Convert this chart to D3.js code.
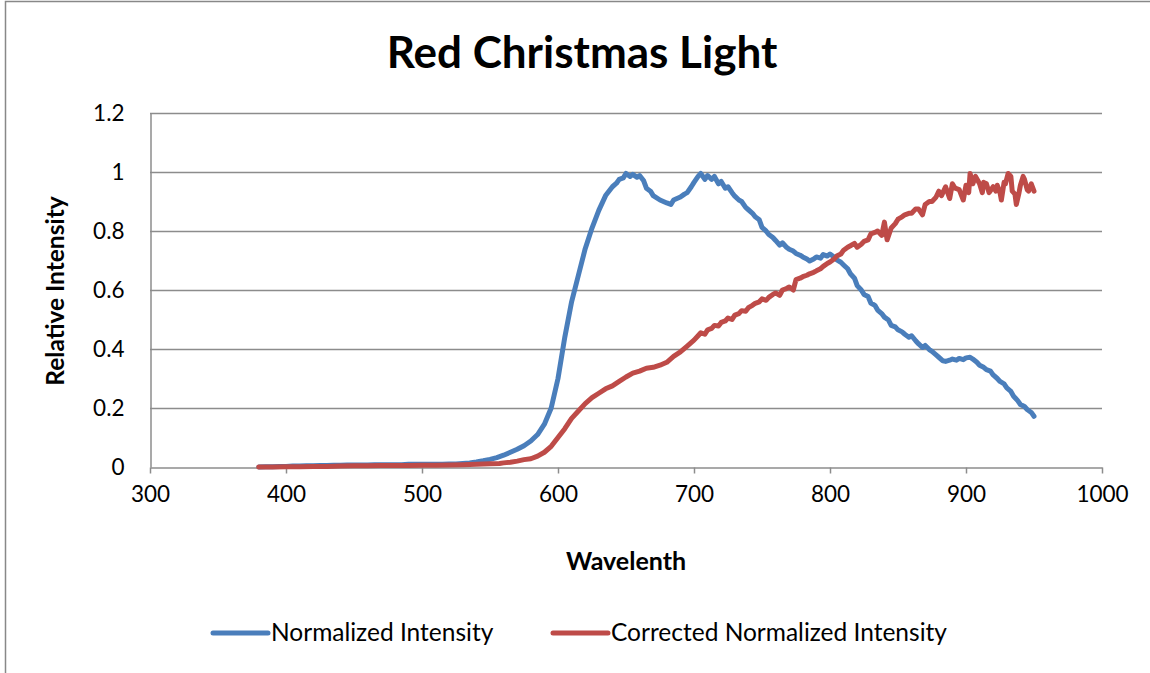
<!DOCTYPE html>
<html><head><meta charset="utf-8">
<script src="https://cdn.jsdelivr.net/npm/d3@7"></script>
<style>html,body{margin:0;padding:0;background:#fff;} svg{display:block;}</style>
</head><body>
<script>
const title = "Red Christmas Light";
const xLabel = "Wavelenth";
const yLabel = "Relative Intensity";
const seriesNames = ["Normalized Intensity", "Corrected Normalized Intensity"];
const xTicks = [300,400,500,600,700,800,900,1000];
const yTicks = [0,0.2,0.4,0.6,0.8,1,1.2];
const yTickLabels = ["0","0.2","0.4","0.6","0.8","1","1.2"];

const blueWl = [380,385,390,395,400,405,410,415,420,425,430,435,440,445,450,455,460,465,470,475,480,485,490,495,500,505,510,515,520,525,530,535,540,545,550,555,560,565,570,575,580,585,590,595,600,605,610,615,620,625,630,635,640,643,645,648,650,653,655,658,660,663,665,668,670,675,680,683,685,690,693,695,698,700,703,705,708,710,713,715,718,720,723,725,728,730,733,735,738,740,743,745,748,750,753,755,758,760,763,765,768,770,773,775,778,780,783,785,788,790,793,795,798,800,803,805,808,810,813,815,818,820,823,825,828,830,833,835,838,840,843,845,848,850,853,855,858,860,863,865,868,870,873,875,878,880,883,885,888,890,893,895,898,900,903,905,908,910,913,915,918,920,923,925,928,930,933,935,938,940,943,945,948,950];
const blueVal = [0.000,0.001,0.001,0.002,0.002,0.003,0.003,0.004,0.004,0.005,0.005,0.006,0.006,0.007,0.007,0.007,0.007,0.008,0.008,0.008,0.008,0.008,0.009,0.009,0.009,0.009,0.009,0.009,0.010,0.010,0.012,0.014,0.017,0.021,0.026,0.032,0.040,0.050,0.060,0.072,0.088,0.110,0.145,0.200,0.300,0.440,0.560,0.650,0.740,0.810,0.870,0.920,0.950,0.962,0.975,0.980,0.995,0.985,0.992,0.982,0.988,0.970,0.945,0.935,0.920,0.905,0.895,0.890,0.905,0.915,0.925,0.930,0.950,0.965,0.985,0.995,0.975,0.988,0.975,0.985,0.960,0.968,0.945,0.950,0.930,0.918,0.905,0.900,0.880,0.872,0.860,0.848,0.838,0.812,0.800,0.788,0.778,0.768,0.752,0.760,0.745,0.738,0.732,0.724,0.718,0.712,0.705,0.698,0.705,0.712,0.708,0.720,0.715,0.722,0.712,0.702,0.694,0.685,0.672,0.655,0.640,0.615,0.600,0.585,0.578,0.556,0.548,0.532,0.520,0.508,0.498,0.480,0.475,0.465,0.458,0.450,0.440,0.445,0.428,0.418,0.405,0.412,0.398,0.392,0.380,0.372,0.360,0.358,0.362,0.366,0.362,0.368,0.364,0.370,0.372,0.366,0.355,0.345,0.338,0.330,0.325,0.312,0.300,0.290,0.282,0.268,0.256,0.240,0.225,0.212,0.205,0.195,0.185,0.172,0.158];

const redWl = [380,390,400,410,420,430,440,450,460,470,480,490,500,510,520,530,540,550,557,560,565,570,575,580,585,590,595,600,605,610,615,620,625,630,635,640,645,650,655,660,665,670,675,680,685,690,695,700,703,705,708,710,713,715,718,720,723,725,728,730,733,735,738,740,743,745,748,750,753,755,758,760,763,765,768,770,773,775,778,780,783,785,788,790,793,795,798,800,803,805,808,810,813,815,818,820,823,825,828,830,833,835,838,840,842,845,848,850,853,855,858,860,863,865,868,870,873,875,878,880,882,885,888,890,892,895,898,900,902,903,905,907,910,912,913,915,917,920,922,923,925,926,928,929,931,933,934,936,937,939,940,942,943,945,946,948,950];
const redVal = [0.000,0.000,0.001,0.001,0.002,0.002,0.003,0.004,0.004,0.005,0.005,0.005,0.006,0.006,0.007,0.008,0.009,0.011,0.012,0.014,0.016,0.020,0.025,0.028,0.037,0.050,0.070,0.100,0.130,0.165,0.190,0.215,0.235,0.250,0.265,0.275,0.290,0.305,0.318,0.325,0.335,0.338,0.345,0.355,0.375,0.390,0.410,0.430,0.445,0.455,0.450,0.465,0.470,0.480,0.478,0.490,0.495,0.505,0.500,0.515,0.520,0.530,0.528,0.540,0.548,0.555,0.560,0.570,0.565,0.575,0.585,0.590,0.582,0.600,0.605,0.610,0.600,0.635,0.640,0.645,0.650,0.655,0.660,0.665,0.672,0.680,0.690,0.695,0.705,0.715,0.722,0.735,0.745,0.750,0.758,0.745,0.755,0.765,0.770,0.790,0.795,0.800,0.785,0.830,0.770,0.810,0.825,0.840,0.848,0.855,0.860,0.860,0.875,0.875,0.855,0.890,0.900,0.900,0.915,0.935,0.920,0.950,0.910,0.960,0.945,0.940,0.905,0.955,0.930,0.995,0.960,0.985,0.960,0.930,0.965,0.960,0.930,0.950,0.935,0.955,0.930,0.905,0.965,0.960,0.995,0.985,0.935,0.925,0.890,0.930,0.955,0.985,0.975,0.940,0.935,0.960,0.935];

const colors = ["#4A7EBB", "#BE4B48"];
const W = 1150, H = 673;
const m = {left:150, right:1102, top:113, bottom:467};

const svg = d3.select("body").append("svg").attr("width", W).attr("height", H);
svg.append("rect").attr("x",5.5).attr("y",1.5).attr("width",W+10).attr("height",H+10)
  .attr("fill","#fff").attr("stroke","#888").attr("stroke-width",1.5);

const x = d3.scaleLinear().domain([300,1000]).range([m.left, m.right]);
const y = d3.scaleLinear().domain([0,1.2]).range([m.bottom, m.top]);

const font = "Lato, 'Open Sans', sans-serif";

// gridlines
svg.append("g").selectAll("line").data(yTicks.filter(d=>d>0)).join("line")
  .attr("x1", m.left).attr("x2", m.right)
  .attr("y1", d=>Math.round(y(d))+0.5).attr("y2", d=>Math.round(y(d))+0.5)
  .attr("stroke","#8c8c8c").attr("stroke-width",1.5);

// y axis
const yAxis = d3.axisLeft(y).tickValues(yTicks).tickFormat((d,i)=>yTickLabels[i]).tickSize(0).tickPadding(26);
const gy = svg.append("g").attr("transform",`translate(${m.left+0.5},0)`).call(yAxis);
gy.select(".domain").attr("stroke","#8c8c8c").attr("stroke-width",1.5);
gy.selectAll("text").attr("font-family",font).attr("font-size",22.5).attr("fill","#000");

// x axis
const xAxis = d3.axisBottom(x).tickValues(xTicks).tickFormat(d3.format("d")).tickSize(6).tickSizeOuter(0).tickPadding(28);
const gx = svg.append("g").attr("transform",`translate(0,${m.bottom+0.5})`).call(xAxis);
gx.select(".domain").attr("stroke","#8c8c8c").attr("stroke-width",1.5);
gx.selectAll(".tick line").attr("stroke","#8c8c8c").attr("stroke-width",1.5);
gx.selectAll("text").attr("font-family",font).attr("font-size",22.5).attr("fill","#000").attr("dy",0);

// lines
const line = d3.line().x(d=>x(d[0])).y(d=>y(d[1]));
const series = [d3.zip(blueWl, blueVal), d3.zip(redWl, redVal)];
series.forEach((s,i)=>{
  svg.append("path").datum(s).attr("d", line).attr("fill","none")
    .attr("stroke", colors[i]).attr("stroke-width",5)
    .attr("stroke-linejoin","round").attr("stroke-linecap","round");
});

// title
svg.append("text").attr("x",582).attr("y",68).attr("text-anchor","middle")
  .attr("font-family",font).attr("font-weight","bold").attr("font-size",44).text(title);
// axis titles
svg.append("text").attr("x",626).attr("y",570).attr("text-anchor","middle")
  .attr("font-family",font).attr("font-weight","bold").attr("font-size",25).text(xLabel);
svg.append("text").attr("transform","translate(64,291) rotate(-90)").attr("text-anchor","middle")
  .attr("font-family",font).attr("font-weight","bold").attr("font-size",24.5).text(yLabel);

// legend
const legX = [213, 553];
seriesNames.forEach((n,i)=>{
  svg.append("line").attr("x1",legX[i]).attr("x2",legX[i]+55).attr("y1",633).attr("y2",633)
    .attr("stroke",colors[i]).attr("stroke-width",5).attr("stroke-linecap","round");
  svg.append("text").attr("x",legX[i]+58).attr("y",641).attr("font-family",font)
    .attr("font-size",24.5).text(n);
});
</script>
</body></html>
